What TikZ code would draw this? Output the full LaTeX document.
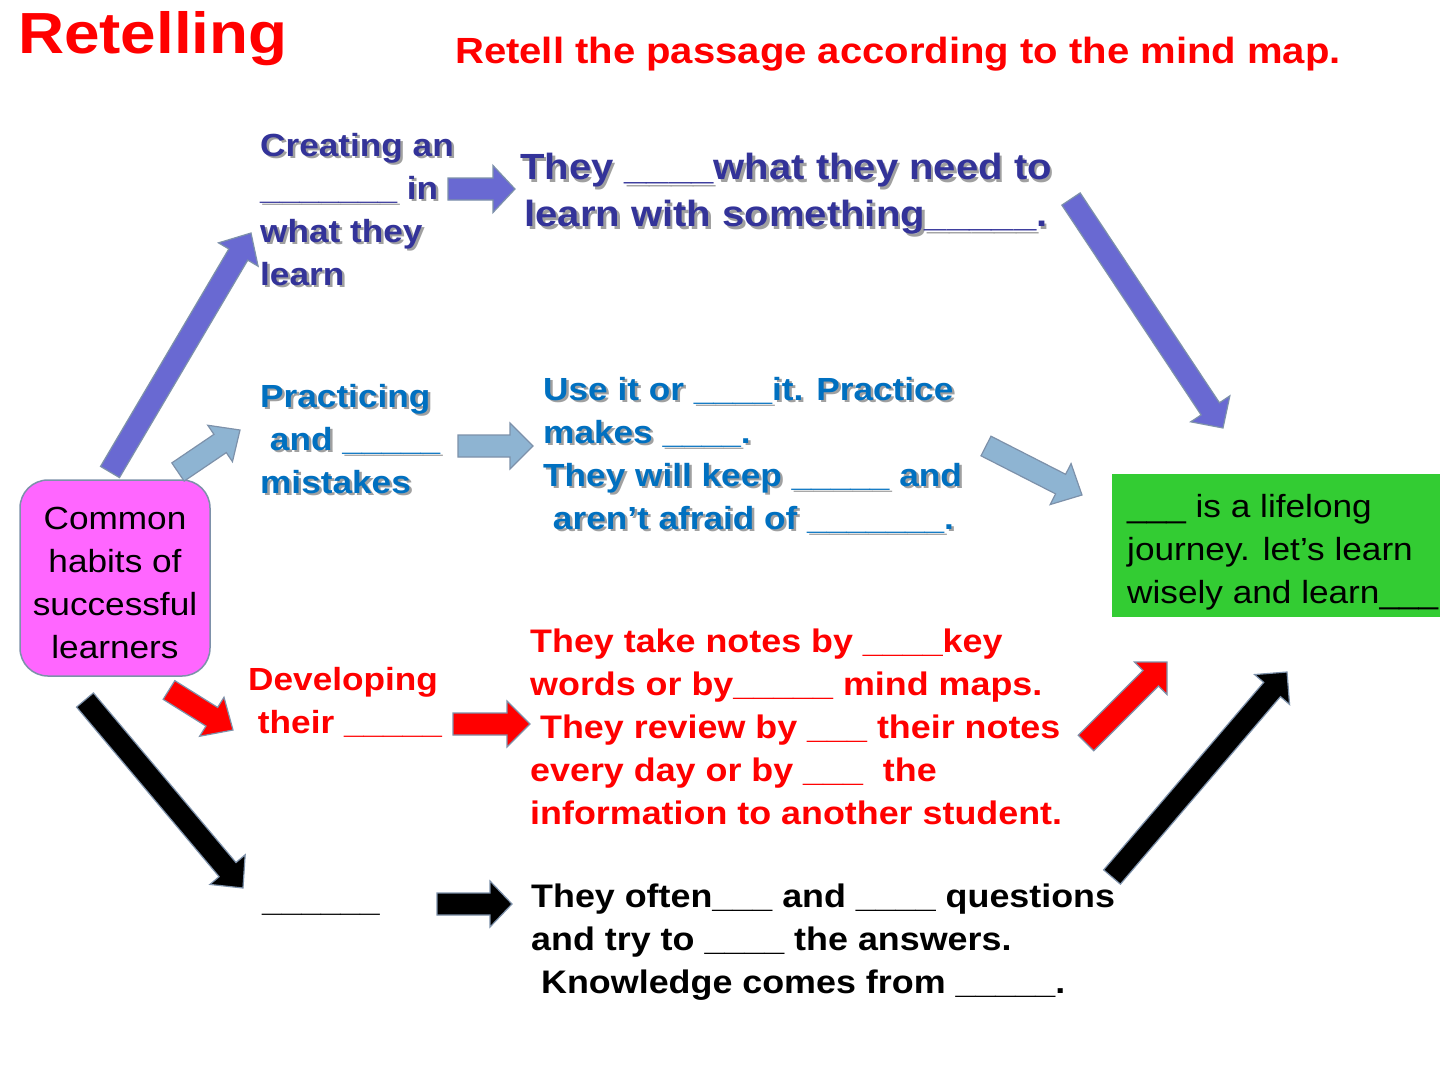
\documentclass[tikz,border=0pt]{standalone}
\usepackage{fontspec}
\setmainfont{Liberation Sans}[FakeStretch=1.1]
\usetikzlibrary{calc}
\definecolor{purp}{RGB}{51,51,153}
\definecolor{arrp}{RGB}{105,105,210}
\definecolor{arrlb}{RGB}{142,180,210}
\definecolor{bluet}{RGB}{0,112,192}
\definecolor{redt}{RGB}{255,0,0}
\definecolor{shadowc}{RGB}{160,160,160}
\definecolor{pinkbox}{RGB}{255,102,255}
\definecolor{greenbox}{RGB}{51,204,51}
\definecolor{edgec}{RGB}{125,145,170}
% block arrow: style, from, to, shaft width, head width, head length
\newcommand\barrow[6]{%
 \path[#1] let \p1=(#2), \p2=(#3), \n1={atan2(\y2-\y1,\x2-\x1)}, \n2={veclen(\x2-\x1,\y2-\y1)} in
 ([shift={(\p1)},rotate=\n1]0pt,#4pt/2)
 -- ([shift={(\p1)},rotate=\n1]\n2-#6pt,#4pt/2)
 -- ([shift={(\p1)},rotate=\n1]\n2-#6pt,#5pt/2)
 -- ([shift={(\p1)},rotate=\n1]\n2,0pt)
 -- ([shift={(\p1)},rotate=\n1]\n2-#6pt,-#5pt/2)
 -- ([shift={(\p1)},rotate=\n1]\n2-#6pt,-#4pt/2)
 -- ([shift={(\p1)},rotate=\n1]0pt,-#4pt/2) -- cycle;}
% text with drop shadow: name, options, position, text
\newcommand\shnode[4]{%
 \node[#2,text=shadowc,xshift=2.5pt,yshift=-2.5pt] at (#3) {#4};
 \node[#2] (#1) at (#3) {#4};}
\tikzset{
 txt/.style={inner sep=0pt, anchor=north west, align=left},
 bodyf/.style={font=\fontsize{32}{43}\selectfont\bfseries},
 bodyg/.style={font=\fontsize{32.6}{43}\selectfont\bfseries},
 arr/.style={draw=edgec, line width=1.2pt, line join=miter},
}
\begin{document}
\begin{tikzpicture}[x=1pt,y=-1pt]
\useasboundingbox (0,0) rectangle (1440,1080);
\fill[white] (0,0) rectangle (1440,1080);

% boxes
\node[draw=edgec, line width=1.5pt, fill=pinkbox, rounded corners=28pt, minimum width=190pt, minimum height=196pt] (startbox) at (115,578) {};
\node[align=center, inner sep=0pt, font=\fontsize{32}{43}\selectfont, anchor=north] (start) at (115,507) {Common\\habits of\\successful\\learners};
\node[fill=greenbox, minimum width=340pt, minimum height=143pt, anchor=north west, inner sep=0pt] (goalbox) at (1112,474) {};
\node[txt, font=\fontsize{32}{43}\selectfont] (goal) at (1127,494) {\_\_\_ is a lifelong\\journey. let’s learn\\wisely and learn\_\_\_};

% titles
\node[inner sep=0pt, anchor=north west, font=\fontsize{58}{62}\selectfont\bfseries, text=redt] (title) at (18,11) {Retelling};
\node[inner sep=0pt, anchor=north west, font=\fontsize{36.4}{40}\selectfont\bfseries, text=redt] (sub) at (455,37) {Retell the passage according to the mind map.};

% branch texts
\shnode{creat}{txt,bodyf,text=purp}{260,133}{Creating an\\\_\_\_\_\_\_\_ in\\what they\\learn}
\shnode{need}{inner sep=0pt, anchor=north, align=center, font=\fontsize{36.4}{47}\selectfont\bfseries, text=purp}{786,153}{They \_\_\_\_what they need to\\learn with something\_\_\_\_\_.}
\shnode{prac}{txt,bodyf,text=bluet}{260,384}{Practicing\\\ and \_\_\_\_\_\\mistakes}
\shnode{use}{txt,bodyf,text=bluet}{543,377}{Use it or \_\_\_\_it. Practice\\makes \_\_\_\_.\\They will keep \_\_\_\_\_ and\\\ aren’t afraid of \_\_\_\_\_\_\_.}
\node[txt,bodyf,text=redt] (dev) at (248,667) {Developing\\\ their \_\_\_\_\_};
\node[txt,bodyg,text=redt] (notes) at (530,629) {They take notes by \_\_\_\_key\\words or by\_\_\_\_\_ mind maps.\\\ They review by \_\_\_ their notes\\every day or by \_\_\_\ \ the\\information to another student.};
\node[inner sep=0pt, anchor=base west, bodyf] (habit) at (262,911) {\_\_\_\_\_\_};
\node[txt,bodyg] (ask) at (531,884) {They often\_\_\_ and \_\_\_\_ questions\\and try to \_\_\_\_ the answers.\\\ Knowledge comes from \_\_\_\_\_.};

% arrow end points
\coordinate (a1s) at (110,472);  \coordinate (a1e) at (251,233);
\coordinate (a2s) at (178,472);  \coordinate (a2e) at (240,430);
\coordinate (a3s) at (448,189);  \coordinate (a3e) at (515,189);
\coordinate (a4s) at (458,446);  \coordinate (a4e) at (533,446);
\coordinate (a5s) at (1071,199); \coordinate (a5e) at (1223,428);
\coordinate (a6s) at (986,446);  \coordinate (a6e) at (1082,495);
\coordinate (a7s) at (169,690);  \coordinate (a7e) at (233,730);
\coordinate (a8s) at (85,700);   \coordinate (a8e) at (243,888);
\coordinate (a9s) at (453,724);  \coordinate (a9e) at (530,724);
\coordinate (a10s) at (437,904); \coordinate (a10e) at (512,904);
\coordinate (a11s) at (1086,743);\coordinate (a11e) at (1167,662);
\coordinate (a12s) at (1112,877);\coordinate (a12e) at (1287,672);

\barrow{arr,fill=arrp}{a1s}{a1e}{22}{46}{25}
\barrow{arr,fill=arrlb}{a2s}{a2e}{22}{44}{24}
\barrow{arr,fill=arrp}{a3s}{a3e}{22}{47}{22}
\barrow{arr,fill=arrlb}{a4s}{a4e}{22}{46}{23}
\barrow{arr,fill=arrp}{a5s}{a5e}{22}{47}{23}
\barrow{arr,fill=arrlb}{a6s}{a6e}{22}{46}{24}
\barrow{arr,fill=redt}{a7s}{a7e}{22}{46}{25}
\barrow{arr,fill=black}{a8s}{a8e}{22}{46}{24}
\barrow{arr,fill=redt}{a9s}{a9e}{22}{46}{23}
\barrow{arr,fill=black}{a10s}{a10e}{22}{46}{22}
\barrow{arr,fill=redt}{a11s}{a11e}{22}{46}{23}
\barrow{arr,fill=black}{a12s}{a12e}{22}{46}{23}
\end{tikzpicture}
\end{document}
